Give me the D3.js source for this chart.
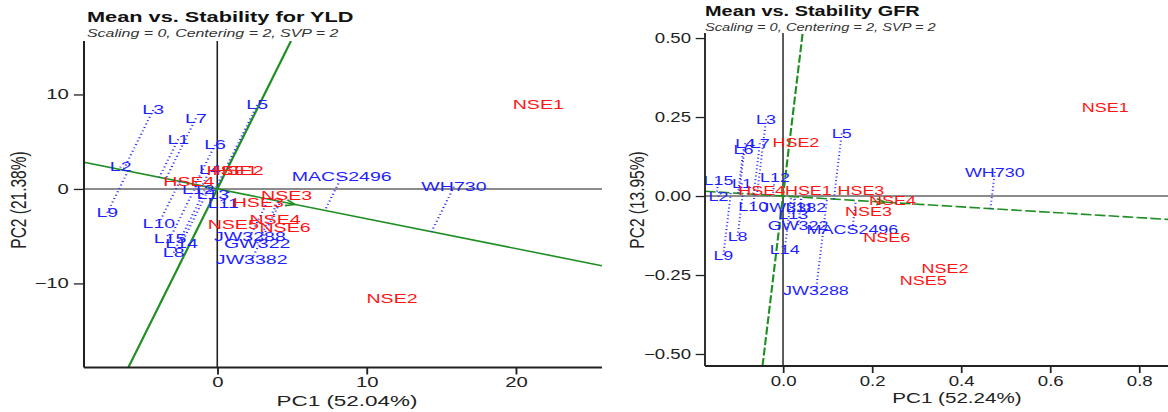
<!DOCTYPE html>
<html lang="en">
<head>
<meta charset="UTF-8">
<title>Mean vs. Stability</title>
<script src="https://cdn.jsdelivr.net/npm/d3@7"></script>
<style>
  body { margin: 0; background: #fff; }
  svg { display: block; font-family: "Liberation Sans", Arial, sans-serif; }
</style>
</head>
<body>
<svg id="chart"></svg>
<script>
// genotypes (blue) and environments (red)
const genotypes = ["L1", "L2", "L3", "L4", "L5", "L6", "L7", "L8", "L9", "L10", "L11", "L12", "L13", "L14", "L15",
    "MACS2496", "WH730", "JW3288", "GW322", "JW3382"]
const environments = ["HSE1", "HSE2", "HSE3", "HSE4", "NSE1", "NSE2", "NSE3", "NSE4", "NSE5", "NSE6"]

// YLD biplot scores
const yldGenoPC1 = [-2.61, -6.47, -4.29, -0.49, 2.68, -0.15, -1.43, -2.92, -7.37, -3.91, 0.40, -1.27, -0.30, -2.39, -3.17, 8.34, 15.86, 2.19, 2.68, 2.31]
const yldGenoPC2 = [5.26, 2.36, 8.36, 2.01, 8.89, 4.66, 7.48, -6.74, -2.51, -3.63, -1.51, -0.11, -0.55, -5.75, -5.22, 1.30, 0.24, -5.05, -5.75, -7.44]
const yldEnvPC1 = [0.99, 1.39, 2.75, -1.90, 21.51, 11.71, 4.65, 3.87, 1.07, 4.54]
const yldEnvPC2 = [1.90, 1.90, -1.45, 0.77, 8.89, -11.64, -0.74, -3.21, -3.81, -4.05]
const yldAvgEnv = [5.2, -1.64]
const yldXDomain = [-8.93, 25.78]
const yldYDomain = [-18.9, 15.66]
const yldXTicks = [0, 10, 20]
const yldYTicks = [-10, 0, 10]

// GFR biplot scores
const gfrGenoPC1 = [-0.092, -0.145, -0.038, -0.085, 0.132, -0.089, -0.052, -0.102, -0.134, -0.067, 0.038, -0.018, 0.023, 0.004, -0.145, 0.156, 0.476, 0.074, 0.034, 0.023]
const gfrGenoPC2 = [0.040, -0.002, 0.243, 0.167, 0.198, 0.148, 0.167, -0.127, -0.187, -0.032, -0.035, 0.059, -0.057, -0.169, 0.051, -0.104, 0.076, -0.300, -0.092, -0.036]
const gfrEnvPC1 = [0.057, 0.029, 0.175, -0.048, 0.724, 0.364, 0.192, 0.246, 0.315, 0.233]
const gfrEnvPC2 = [0.019, 0.170, 0.019, 0.019, 0.281, -0.229, -0.050, -0.013, -0.268, -0.132]
const gfrAvgEnv = [0.229, -0.0196]
const gfrXDomain = [-0.1753, 0.865]
const gfrYDomain = [-0.538, 0.516]
const gfrXTicks = [0, 0.2, 0.4, 0.6, 0.8]
const gfrYTicks = [-0.5, -0.25, 0, 0.25, 0.5]

const subtitle = "Scaling = 0, Centering = 2, SVP = 2"

const W = 1168, H = 412
const root = d3.select('#chart').attr('width', W).attr('height', H)

const drawPanel = (p) => {
    // each panel is horizontally stretched like the source picture
    const fx = v => (v - p.x0) / p.sx
    const svg = root.append('svg')
        .attr('x', p.x0).attr('y', 0)
        .attr('width', p.w).attr('height', H)
        .attr('viewBox', `0 0 ${p.w / p.sx} ${H}`)
        .attr('preserveAspectRatio', 'none')
        .style('overflow', 'visible')

    const x = d3.scaleLinear().domain(p.xDomain).range([fx(p.left), fx(p.right)])
    const y = d3.scaleLinear().domain(p.yDomain).range([p.bottom, p.top])

    svg.append('clipPath').attr('id', 'clip-' + p.id)
        .append('rect')
        .attr('x', fx(p.left)).attr('y', p.top)
        .attr('width', fx(p.right) - fx(p.left)).attr('height', p.bottom - p.top)

    const plot = svg.append('g').attr('clip-path', `url(#clip-${p.id})`)

    // origin lines
    plot.append('line')
        .attr('x1', fx(p.left)).attr('x2', fx(p.right))
        .attr('y1', y(0)).attr('y2', y(0))
        .attr('stroke', '#666').attr('stroke-width', 1.4)
    plot.append('line')
        .attr('x1', x(0)).attr('x2', x(0))
        .attr('y1', p.top).attr('y2', p.bottom)
        .attr('stroke', '#222').attr('stroke-width', 1.1)

    // ATC abscissa and ordinate
    const [a, b] = p.avgEnv
    const [x0, x1] = p.xDomain
    const [y0, y1] = p.yDomain
    const green = plot.append('g')
        .attr('stroke', '#1f8f24').attr('stroke-width', 1.6).attr('fill', 'none')
        .attr('stroke-dasharray', p.dash)
    green.append('line')
        .attr('x1', x(x0)).attr('y1', y(b / a * x0))
        .attr('x2', x(x1)).attr('y2', y(b / a * x1))
    green.append('line')
        .attr('x1', x(-b / a * y0)).attr('y1', y(y0))
        .attr('x2', x(-b / a * y1)).attr('y2', y(y1))

    // average environment arrow
    const ang = Math.atan2(y(b) - y(0), x(a) - x(0))
    const hl = 7
    plot.append('path')
        .attr('d', `M${x(a) - hl * Math.cos(ang - 0.45)},${y(b) - hl * Math.sin(ang - 0.45)}L${x(a)},${y(b)}L${x(a) - hl * Math.cos(ang + 0.45)},${y(b) - hl * Math.sin(ang + 0.45)}`)
        .attr('stroke', '#1f8f24').attr('stroke-width', 1.6).attr('fill', 'none')

    // genotype projections on the ATC abscissa
    const geno = genotypes.map((name, i) => {
        const gx = p.genoPC1[i], gy = p.genoPC2[i]
        const t = (gx * a + gy * b) / (a * a + b * b)
        return { name, gx, gy, px: a * t, py: b * t }
    })
    plot.append('g').selectAll('line')
        .data(geno).join('line')
        .attr('x1', d => x(d.gx)).attr('y1', d => y(d.gy))
        .attr('x2', d => x(d.px)).attr('y2', d => y(d.py))
        .attr('stroke', '#2a2aff').attr('stroke-width', 1.5)
        .attr('stroke-dasharray', '1,2.6')

    // labels
    svg.append('g').selectAll('text')
        .data(geno).join('text')
        .attr('x', d => x(d.gx)).attr('y', d => y(d.gy))
        .attr('text-anchor', 'middle').attr('dominant-baseline', 'central')
        .attr('font-size', 13.5).attr('fill', '#1f1fff')
        .text(d => d.name)
    svg.append('g').selectAll('text')
        .data(environments).join('text')
        .attr('x', (d, i) => x(p.envPC1[i])).attr('y', (d, i) => y(p.envPC2[i]))
        .attr('text-anchor', 'middle').attr('dominant-baseline', 'central')
        .attr('font-size', 13.5).attr('fill', '#ff1414')
        .text(d => d)

    // axes (left and bottom only)
    const xAxis = svg.append('g')
        .attr('transform', `translate(0,${p.bottom})`)
        .call(d3.axisBottom(x).tickValues(p.xTicks).tickFormat(p.xFmt)
            .tickSize(7).tickSizeOuter(0).tickPadding(3))
    const yAxis = svg.append('g')
        .attr('transform', `translate(${fx(p.left)},0)`)
        .call(d3.axisLeft(y).tickValues(p.yTicks).tickFormat(p.yFmt)
            .tickSize(7).tickSizeOuter(0).tickPadding(3.5))
    ;[xAxis, yAxis].forEach(ax => {
        ax.attr('font-family', null).attr('font-size', null)
        ax.selectAll('text').attr('font-size', 14).attr('fill', '#222')
        ax.selectAll('line').attr('stroke', '#222').attr('stroke-width', 1.3)
    })
    xAxis.select('.domain').attr('stroke', '#222').attr('stroke-width', 1.8)
    yAxis.select('.domain').attr('stroke', '#222').attr('stroke-width', 1.4)
    xAxis.select('.domain').attr('d', `M${fx(p.left)},0H${fx(p.right)}`)
    yAxis.select('.domain').attr('d', `M0,${p.top}V${p.bottom}`)

    // axis titles
    svg.append('text')
        .attr('x', fx(p.xTitleX)).attr('y', p.xTitleY)
        .attr('text-anchor', 'middle').attr('font-size', 15.5).attr('fill', '#222')
        .text(p.xTitle)
    svg.append('text')
        .attr('transform', `translate(${fx(p.yTitleX)},${p.yTitleY}) rotate(-90)`)
        .attr('text-anchor', 'middle').attr('dominant-baseline', 'central')
        .attr('font-size', 15.5).attr('fill', '#222')
        .text(p.yTitle)

    // titles
    svg.append('text')
        .attr('x', fx(p.titleX)).attr('y', p.titleY)
        .attr('font-size', 15).attr('font-weight', 'bold').attr('fill', '#111')
        .text(p.title)
    svg.append('text')
        .attr('x', fx(p.titleX)).attr('y', p.titleY + 15)
        .attr('font-size', 11).attr('font-style', 'italic').attr('fill', '#333')
        .text(subtitle)
}

drawPanel({
    id: 'yld', x0: 0, w: 612, sx: 1.45,
    left: 84, right: 602, top: 41, bottom: 367.5,
    xDomain: yldXDomain, yDomain: yldYDomain,
    xTicks: yldXTicks, yTicks: yldYTicks,
    xFmt: d3.format('d'), yFmt: d3.format('d'),
    genoPC1: yldGenoPC1, genoPC2: yldGenoPC2,
    envPC1: yldEnvPC1, envPC2: yldEnvPC2,
    avgEnv: yldAvgEnv, dash: null,
    title: 'Mean vs. Stability for YLD', titleX: 87, titleY: 22,
    xTitle: 'PC1 (52.04%)', xTitleX: 347, xTitleY: 406,
    yTitle: 'PC2 (21.38%)', yTitleX: 18, yTitleY: 200
})

drawPanel({
    id: 'gfr', x0: 612, w: 556, sx: 1.33,
    left: 705, right: 1168, top: 33, bottom: 366,
    xDomain: gfrXDomain, yDomain: gfrYDomain,
    xTicks: gfrXTicks, yTicks: gfrYTicks,
    xFmt: d3.format('.1f'), yFmt: d3.format('.2f'),
    genoPC1: gfrGenoPC1, genoPC2: gfrGenoPC2,
    envPC1: gfrEnvPC1, envPC2: gfrEnvPC2,
    avgEnv: gfrAvgEnv, dash: '8,2.5',
    title: 'Mean vs. Stability GFR', titleX: 705, titleY: 16,
    xTitle: 'PC1 (52.24%)', xTitleX: 957, xTitleY: 403,
    yTitle: 'PC2 (13.95%)', yTitleX: 637, yTitleY: 200
})
</script>
</body>
</html>
